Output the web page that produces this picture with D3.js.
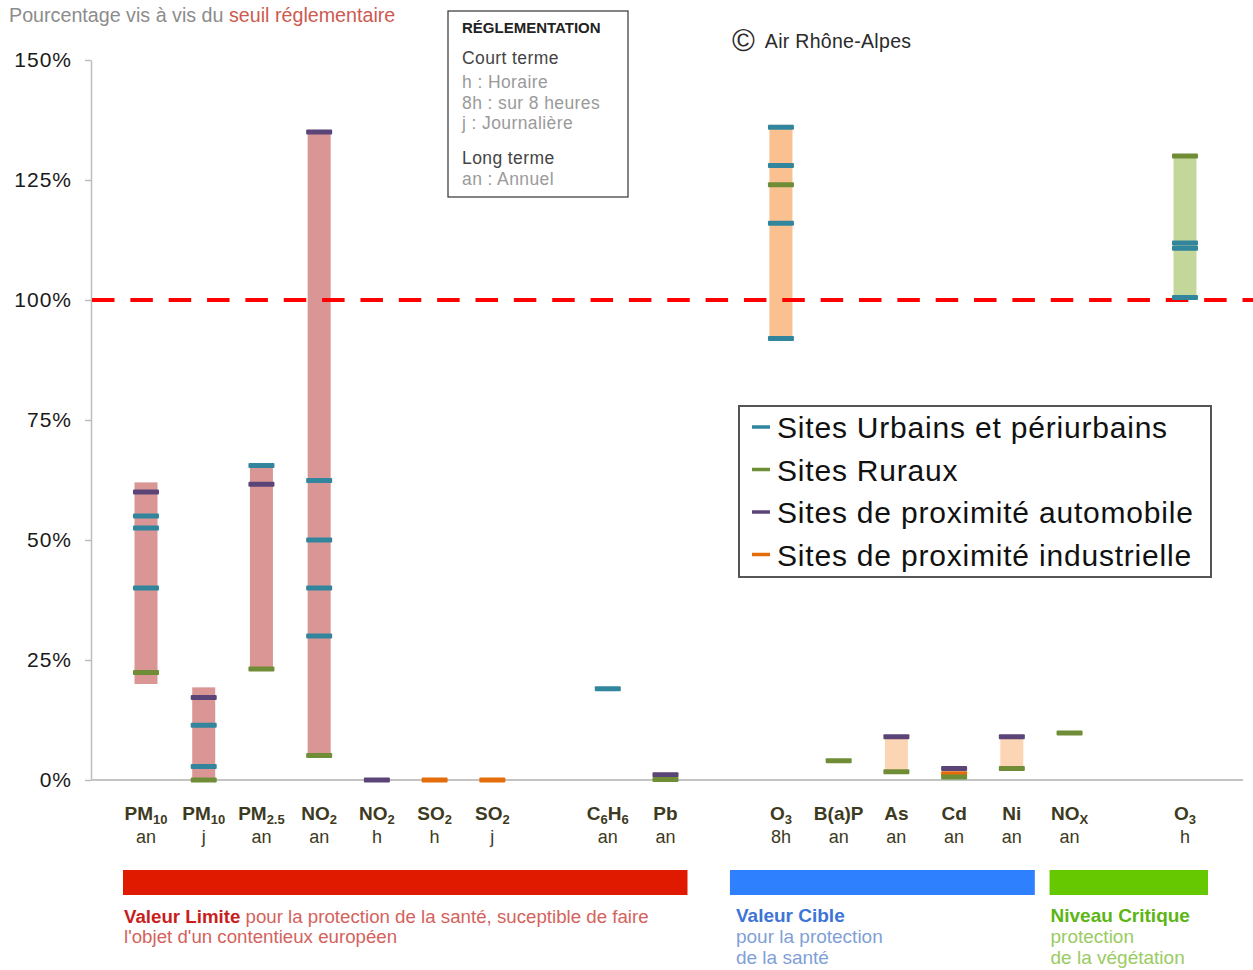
<!DOCTYPE html>
<html><head><meta charset="utf-8">
<script src="https://cdn.jsdelivr.net/npm/d3@7"></script>
<style>body{margin:0;background:#fff}svg{display:block}</style>
</head><body>
<svg id="c" width="1253" height="970"></svg>
<script>
// ---------- DATA ----------
const categories = ["PM10 an","PM10 j","PM2.5 an","NO2 an","NO2 h","SO2 h","SO2 j","_g1","C6H6 an","Pb an","_g2","O3 8h","B(a)P an","As an","Cd an","Ni an","NOx an","_g3","O3 h"];
// label first line: segments [text, isSubscript]
const labelTop = [
  [["PM",0],["10",1]],[["PM",0],["10",1]],[["PM",0],["2.5",1]],[["NO",0],["2",1]],
  [["NO",0],["2",1]],[["SO",0],["2",1]],[["SO",0],["2",1]],[],
  [["C",0],["6",1],["H",0],["6",1]],[["Pb",0]],[],
  [["O",0],["3",1]],[["B(a)P",0]],[["As",0]],[["Cd",0]],[["Ni",0]],[["NO",0],["X",1]],[],
  [["O",0],["3",1]]
];
const labelBottom = ["an","j","an","an","h","h","j","","an","an","","8h","an","an","an","an","an","","h"];
const barLow  = [20, 0, 23, 5, null,null,null,null,null, 0, null, 92, null, 1.7, null, 2.4, null,null, 100.5];
const barHigh = [62,19.3,65.5,135,null,null,null,null,null,1.5,null,136.5,null,9, null, 9, null,null, 130];
const barKind = ["limite","limite","limite","limite","","","","","","limite","","cible","","cibleLight","","cibleLight","","","critique"];
const urbains      = [[55,52.5,40],[11.4,2.8],[65.5],[62.4,50,40,30],[],[],[],[],[19],[],[],[136,128,116,92],[],[],[],[],[],[],[111.9,110.8,100.5]];
const automobile   = [[60],[17.2],[61.6],[135],[0],[],[],[],[],[1.1],[],[],[],[9],[2.4],[9],[],[],[]];
const industrielle = [[],[],[],[],[],[0],[0],[],[],[],[],[],[],[],[1.3],[],[],[],[]];
const ruraux       = [[22.4],[0],[23.1],[5.1],[],[],[],[],[],[0.1],[],[124],[4],[1.7],[0.6],[2.4],[9.8],[],[130]];
const yTicks = [0,25,50,75,100,125,150];
const seuil = 100;
const seriesNames = ["Sites Urbains et périurbains","Sites Ruraux","Sites de proximité automobile","Sites de proximité industrielle"];
const seriesKeys = ["urbains","ruraux","automobile","industrielle"];
const bands = [
  {from:"PM10 an", to:"Pb an", bold:"Valeur Limite", lines:[" pour la protection de la santé, suceptible de faire","l'objet d'un contentieux européen"], kind:"limite"},
  {from:"O3 8h", to:"Ni an", bold:"Valeur Cible", lines:["pour la protection","de la santé"], kind:"cible"},
  {from:"NOx an", to:"O3 h", bold:"Niveau Critique", lines:["protection","de la végétation"], kind:"critique"}
];

// ---------- STYLE ----------
const colors = {urbains:"#31859c", ruraux:"#6f8d36", automobile:"#5b4478", industrielle:"#e46c0a"};
const barColors = {limite:"#d99694", cible:"#fac090", cibleLight:"#fcd5b5", critique:"#c4d79b"};
const bandColors = {limite:"#df1a00", cible:"#2f80ff", critique:"#66c800"};
const bandBold = {limite:"#c81e1e", cible:"#3d74d6", critique:"#5cb514"};
const bandText = {limite:"#d4625c", cible:"#7f9fd6", critique:"#9acb62"};
const F = "'Liberation Sans', Arial, sans-serif";

const svg = d3.select("#c");
const x = d3.scalePoint().domain(categories).range([146, 1185]);
const y = d3.scaleLinear().domain([0,150]).range([780, 60]);

// title
const t = svg.append("text").attr("x",9).attr("y",22).attr("font-family",F).attr("font-size",19.7).attr("fill","#8c8c8c");
t.append("tspan").text("Pourcentage vis à vis du ");
t.append("tspan").attr("fill","#cd5a50").text("seuil réglementaire");

// y axis
const yAxis = svg.append("g").attr("transform","translate(91,0)")
  .call(d3.axisLeft(y).tickValues(yTicks).tickFormat(d=>d+"%").tickSize(6).tickPadding(13).tickSizeOuter(0));
yAxis.select(".domain").attr("stroke","#bdbdbd").attr("stroke-width",1.5);
yAxis.selectAll(".tick line").attr("stroke","#bdbdbd").attr("stroke-width",1.5);
yAxis.selectAll(".tick text").attr("font-family",F).attr("font-size",21).attr("letter-spacing",1).attr("fill","#1a1a1a");

// x baseline
svg.append("line").attr("x1",91).attr("x2",1243).attr("y1",y(0)).attr("y2",y(0)).attr("stroke","#c4c4c4").attr("stroke-width",2);

// bars
const barW = 23;
categories.forEach((c,i)=>{
  if(barLow[i]==null) return;
  svg.append("rect").attr("x",x(c)-barW/2).attr("width",barW)
    .attr("y",y(barHigh[i])).attr("height",y(barLow[i])-y(barHigh[i]))
    .attr("fill",barColors[barKind[i]]);
});

// threshold line
svg.append("line").attr("x1",92).attr("x2",1253).attr("y1",y(seuil)).attr("y2",y(seuil))
  .attr("stroke","#ff0000").attr("stroke-width",4).attr("stroke-dasharray","22.5,15.85");

// markers
const seriesData = {urbains, ruraux, automobile, industrielle};
const drawOrder = ["urbains","automobile","industrielle","ruraux"];
const mW = 26, mH = 5;
drawOrder.forEach(k=>{
  seriesData[k].forEach((vals,i)=>{
    vals.forEach(v=>{
      svg.append("rect").attr("x",x(categories[i])-mW/2).attr("width",mW)
        .attr("y",y(v)-mH/2).attr("height",mH).attr("rx",1)
        .attr("fill",colors[k]);
    });
  });
});

// x labels
categories.forEach((c,i)=>{
  if(!labelTop[i].length) return;
  const tx = svg.append("text").attr("x",x(c)).attr("y",820).attr("text-anchor","middle")
    .attr("font-family",F).attr("font-weight","bold").attr("font-size",19).attr("fill","#3d3a22");
  labelTop[i].forEach(([s,sub],j)=>{
    const ts = tx.append("tspan").text(s);
    if(sub){ ts.attr("font-size",13).attr("dy",4); }
    else if(j>0 && labelTop[i][j-1][1]){ ts.attr("dy",-4); }
  });
  svg.append("text").attr("x",x(c)).attr("y",843).attr("text-anchor","middle")
    .attr("font-family",F).attr("font-size",18).attr("fill","#3d3a22").text(labelBottom[i]);
});

// legend
const lg = svg.append("g");
lg.append("rect").attr("x",739).attr("y",406).attr("width",472).attr("height",171)
  .attr("fill","#fff").attr("stroke","#555").attr("stroke-width",2);
seriesKeys.forEach((k,i)=>{
  const yy = 427 + i*42.5;
  lg.append("line").attr("x1",752).attr("x2",770).attr("y1",yy).attr("y2",yy).attr("stroke",colors[k]).attr("stroke-width",3.5);
  lg.append("text").attr("x",777).attr("y",yy+11).attr("font-family",F).attr("font-size",30).attr("letter-spacing",0.8).attr("fill","#111").text(seriesNames[i]);
});

// regulation box
const rb = svg.append("g");
rb.append("rect").attr("x",448).attr("y",11).attr("width",180).attr("height",186).attr("fill","#fff").attr("stroke","#333").attr("stroke-width",1.2);
rb.append("text").attr("x",462).attr("y",33).attr("font-family",F).attr("font-weight","bold").attr("font-size",15).attr("fill","#222").text("RÉGLEMENTATION");
[["Court terme",64,"#444"],["h : Horaire",88,"#9a9a9a"],["8h : sur 8 heures",109,"#9a9a9a"],["j : Journalière",129,"#9a9a9a"],["Long terme",164,"#444"],["an : Annuel",185,"#9a9a9a"]]
  .forEach(([s,yy,col])=>rb.append("text").attr("x",462).attr("y",yy).attr("font-family",F).attr("font-size",17.5).attr("letter-spacing",0.4).attr("fill",col).text(s));

// copyright
const cp = svg.append("text").attr("x",732).attr("y",51).attr("font-family",F).attr("fill","#2a2a2a");
cp.append("tspan").attr("font-size",31).text("©");
cp.append("tspan").attr("font-size",19.5).attr("dx",10).attr("dy",-3).attr("letter-spacing",0.3).text("Air Rhône-Alpes");

// bottom bands
const bandPad = {limite:[23,22], cible:[51,23], critique:[20,23]};
bands.forEach(b=>{
  const x0 = x(b.from)-bandPad[b.kind][0], x1 = x(b.to)+bandPad[b.kind][1];
  svg.append("rect").attr("x",x0).attr("y",870).attr("width",x1-x0).attr("height",25).attr("fill",bandColors[b.kind]);
  const tx0 = x0 + (b.kind==="cible" ? 6 : 1);
  if(b.kind==="limite"){
    const t1 = svg.append("text").attr("x",tx0).attr("y",923).attr("font-family",F).attr("font-size",18.7);
    t1.append("tspan").attr("font-weight","bold").attr("fill",bandBold[b.kind]).text(b.bold);
    t1.append("tspan").attr("fill",bandText[b.kind]).text(b.lines[0]);
    svg.append("text").attr("x",tx0).attr("y",943).attr("font-family",F).attr("font-size",18.7).attr("fill",bandText[b.kind]).text(b.lines[1]);
  } else {
    svg.append("text").attr("x",tx0).attr("y",922).attr("font-family",F).attr("font-size",19).attr("font-weight","bold").attr("fill",bandBold[b.kind]).text(b.bold);
    b.lines.forEach((s,j)=>svg.append("text").attr("x",tx0).attr("y",943+j*20.5).attr("font-family",F).attr("font-size",19).attr("fill",bandText[b.kind]).text(s));
  }
});
</script>
</body></html>
